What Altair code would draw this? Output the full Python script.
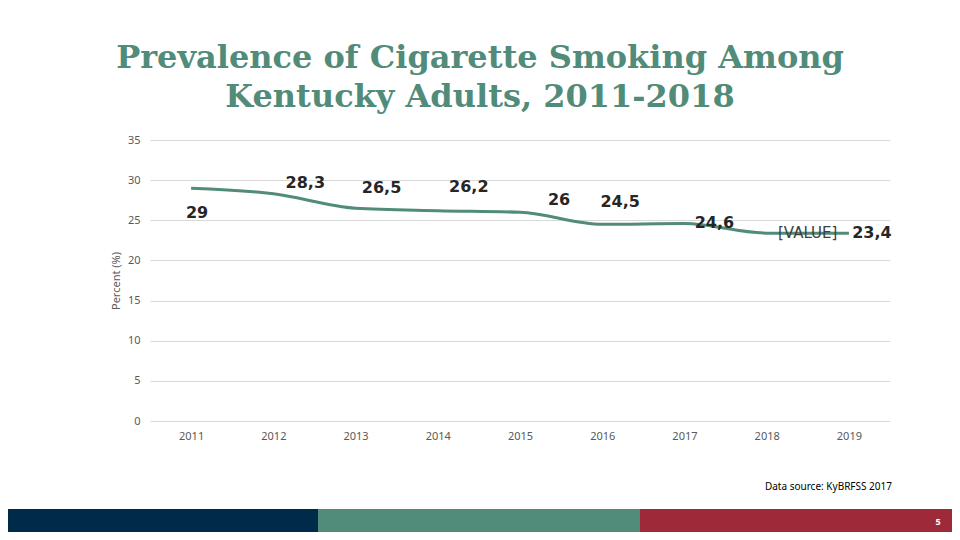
import altair as alt
import pandas as pd

years = ["2011", "2012", "2013", "2014", "2015", "2016", "2017", "2018", "2019"]
values = [29.0, 28.3, 26.5, 26.2, 26.0, 24.5, 24.6, 23.4, 23.4]
labels = ["29", "28,3", "26,5", "26,2", "26", "24,5", "24,6", "[VALUE]", "23,4"]

df = pd.DataFrame({"year": years, "value": values, "label": labels})

# label offsets (style), as in the original slide
label_offsets = {
    "2011": (6, 25), "2012": (32, -11), "2013": (26, -20), "2014": (31, -24),
    "2015": (39, -12), "2016": (18, -22), "2017": (30, 0), "2018": (41, 0), "2019": (23, 0),
}

GREEN = "#518b79"

x = alt.X("year:O", scale=alt.Scale(type="point", padding=0.5),
          axis=alt.Axis(title=None, labelAngle=0, domain=False, ticks=False,
                        labelPadding=9, labelFont="Noto Sans", labelFontSize=11,
                        labelColor="#595959", grid=False))
y = alt.Y("value:Q", scale=alt.Scale(domain=[0, 35], nice=False),
          axis=alt.Axis(title="Percent (%)", values=[0, 5, 10, 15, 20, 25, 30, 35],
                        domain=False, ticks=False, labelPadding=10,
                        labelFont="Noto Sans", labelFontSize=11, labelColor="#595959",
                        titleFont="Noto Sans", titleFontSize=11, titleColor="#595959",
                        titleFontWeight="normal", titlePadding=6,
                        gridColor="#d9d9d9", gridWidth=1))

base = alt.Chart(df)

line = base.mark_line(color=GREEN, strokeWidth=3, interpolate="monotone").encode(x=x, y=y)

texts = []
for yr in years:
    dx, dy = label_offsets[yr]
    is_placeholder = yr == "2018"
    texts.append(
        base.transform_filter(alt.datum.year == yr).mark_text(
            dx=dx, dy=dy,
            font="DejaVu Sans",
            fontSize=15 if is_placeholder else 16,
            fontWeight="normal" if is_placeholder else "bold",
            color="#404040" if is_placeholder else "#262626",
        ).encode(x="year:O", y="value:Q", text="label:N")
    )

pix = pd.DataFrame({"k": [0]})
pb = alt.Chart(pix)

title1 = pb.mark_text(text="Prevalence of Cigarette Smoking Among", font="DejaVu Serif",
                      fontSize=32, fontWeight="bold", color=GREEN, align="center",
                      baseline="middle").encode(x=alt.value(330), y=alt.value(-82))
title2 = pb.mark_text(text="Kentucky Adults, 2011-2018", font="DejaVu Serif",
                      fontSize=32, fontWeight="bold", color=GREEN, align="center",
                      baseline="middle").encode(x=alt.value(330), y=alt.value(-43))

source = pb.mark_text(text="Data source: KyBRFSS 2017", font="Noto Sans", fontSize=10,
                      color="#000000", align="right", baseline="middle").encode(
    x=alt.value(742), y=alt.value(347))

bar1 = pb.mark_rect(color="#002a4a").encode(x=alt.value(-142), x2=alt.value(168),
                                            y=alt.value(369), y2=alt.value(392))
bar2 = pb.mark_rect(color=GREEN).encode(x=alt.value(168), x2=alt.value(490),
                                        y=alt.value(369), y2=alt.value(392))
bar3 = pb.mark_rect(color="#9e2a39").encode(x=alt.value(490), x2=alt.value(802),
                                            y=alt.value(369), y2=alt.value(392))
pagenum = pb.mark_text(text="5", font="Noto Sans", fontSize=9, fontWeight="bold",
                       color="#ffffff", align="center", baseline="middle").encode(
    x=alt.value(788), y=alt.value(382))

chart = alt.layer(line, *texts, title1, title2, source, bar1, bar2, bar3, pagenum).properties(
    width=740, height=281,
    padding={"left": 142, "top": 132, "right": 62, "bottom": 111},
    autosize=alt.AutoSizeParams(type="none"),
).configure(background="#ffffff").configure_view(strokeWidth=0, stroke="transparent")

chart.save("out.html", embed_options={"renderer": "svg", "actions": False})
